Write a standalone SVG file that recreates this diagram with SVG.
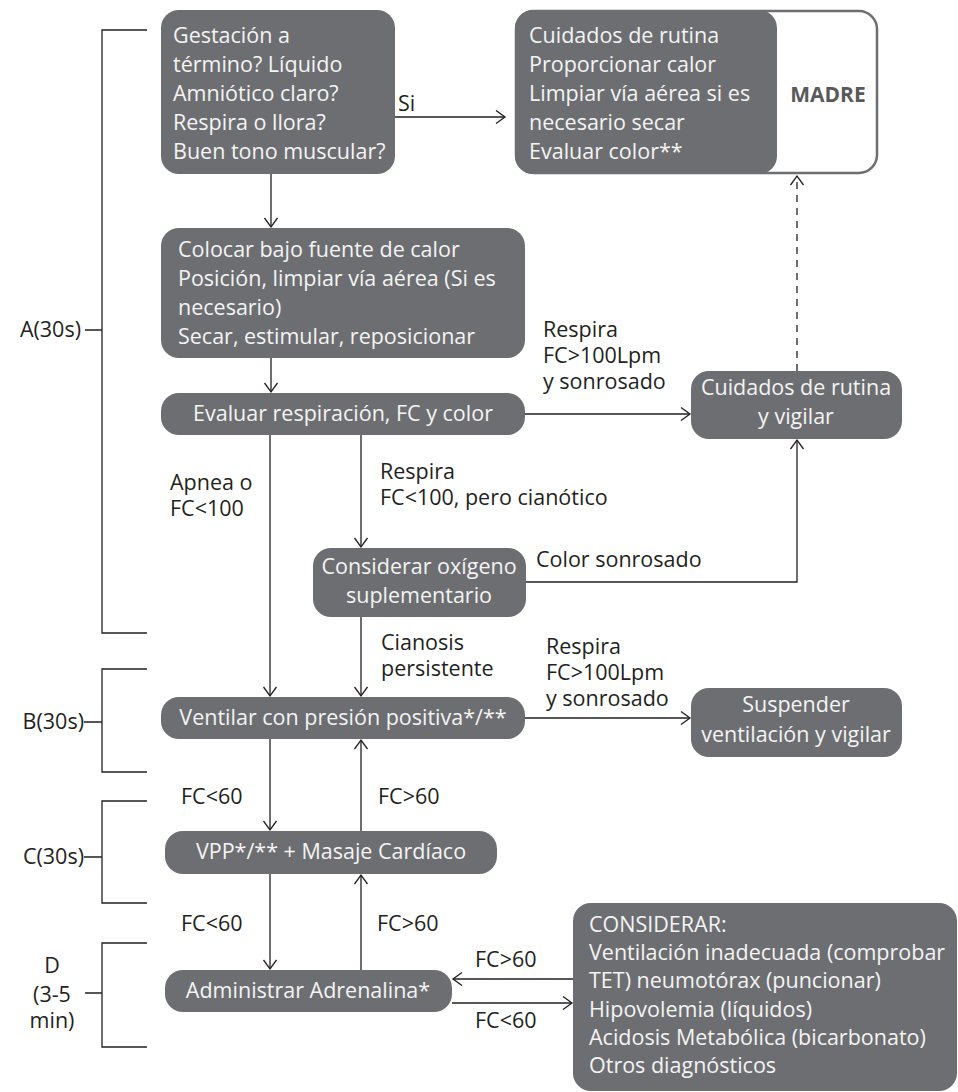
<svg xmlns="http://www.w3.org/2000/svg" width="958" height="1092" viewBox="0 0 958 1092">
<defs>
<marker id="ah" markerUnits="userSpaceOnUse" markerWidth="14" markerHeight="16" refX="10" refY="7" orient="auto">
<path d="M1,0.5 L10,7 L1,13.5" fill="none" stroke="#231f20" stroke-width="1.3"/>
</marker>
</defs>
<style>
.box{fill:#6d6e71}
.bt{font-family:"Open Sans","Liberation Sans",sans-serif;font-size:21.5px;fill:#f4f4f4}
.lt{font-family:"Open Sans","Liberation Sans",sans-serif;font-size:21.5px;fill:#231f20}
.c{text-anchor:middle}
.e{text-anchor:end}
.ln{fill:none;stroke:#231f20;stroke-width:1.3}
.ar{fill:none;stroke:#231f20;stroke-width:1.3;marker-end:url(#ah)}
</style>
<rect width="958" height="1092" fill="#ffffff"/>

<g id="brackets">
<path class="ln" d="M147,30 H102 V633 H147 M85,330 H102"/>
<text class="lt e" x="81" y="337">A(30s)</text>
<path class="ln" d="M147,669 H102 V772 H147 M84,722 H102"/>
<text class="lt e" x="84" y="729">B(30s)</text>
<path class="ln" d="M147,801 H102 V903 H147 M84,857 H102"/>
<text class="lt e" x="84" y="864">C(30s)</text>
<path class="ln" d="M147,943 H102 V1047 H147 M85,993 H102"/>
<text class="lt c" x="52" y="973">D</text>
<text class="lt c" x="52" y="1002">(3-5</text>
<text class="lt c" x="52" y="1028">min)</text>
</g>

<g id="n-gestacion">
<rect class="box" x="161" y="10" width="234" height="164" rx="18"/>
<text class="bt" x="173" y="43">Gestación a</text>
<text class="bt" x="173" y="72">término? Líquido</text>
<text class="bt" x="173" y="101">Amniótico claro?</text>
<text class="bt" x="173" y="130">Respira o llora?</text>
<text class="bt" x="173" y="159">Buen tono muscular?</text>
</g>

<g id="n-madre">
<rect x="516" y="11" width="361" height="162" rx="18" fill="#ffffff" stroke="#6d6e71" stroke-width="2.5"/>
<rect class="box" x="515" y="10" width="262" height="164" rx="18"/>
<text class="bt" x="529" y="43">Cuidados de rutina</text>
<text class="bt" x="529" y="72">Proporcionar calor</text>
<text class="bt" x="529" y="101">Limpiar vía aérea si es</text>
<text class="bt" x="529" y="130">necesario secar</text>
<text class="bt" x="529" y="159">Evaluar color**</text>
<text x="828" y="102" text-anchor="middle" font-family="Open Sans, Liberation Sans, sans-serif" font-size="21" font-weight="bold" fill="#58595b">MADRE</text>
</g>

<g id="n-colocar">
<rect class="box" x="161" y="228" width="364" height="130" rx="18"/>
<text class="bt" x="178" y="257">Colocar bajo fuente de calor</text>
<text class="bt" x="178" y="286">Posición, limpiar vía aérea (Si es</text>
<text class="bt" x="178" y="315">necesario)</text>
<text class="bt" x="178" y="344">Secar, estimular, reposicionar</text>
</g>

<g id="n-evaluar">
<rect class="box" x="161" y="393" width="364" height="42" rx="18"/>
<text class="bt c" x="343" y="421">Evaluar respiración, FC y color</text>
</g>

<g id="n-cuidados">
<rect class="box" x="691" y="371" width="211" height="68" rx="18"/>
<text class="bt c" x="796" y="395">Cuidados de rutina</text>
<text class="bt c" x="796" y="424">y vigilar</text>
</g>

<g id="n-oxigeno">
<rect class="box" x="313" y="548" width="213" height="69" rx="18"/>
<text class="bt c" x="419" y="574">Considerar oxígeno</text>
<text class="bt c" x="419" y="603">suplementario</text>
</g>

<g id="n-ventilar">
<rect class="box" x="161" y="697" width="364" height="42" rx="18"/>
<text class="bt c" x="343" y="725">Ventilar con presión positiva*/**</text>
</g>

<g id="n-suspender">
<rect class="box" x="691" y="688" width="211" height="69" rx="18"/>
<text class="bt c" x="796" y="712">Suspender</text>
<text class="bt c" x="796" y="742">ventilación y vigilar</text>
</g>

<g id="n-vpp">
<rect class="box" x="165" y="831" width="332" height="43" rx="18"/>
<text class="bt c" x="331" y="859">VPP*/** + Masaje Cardíaco</text>
</g>

<g id="n-adrenalina">
<rect class="box" x="165" y="970" width="287" height="42" rx="18"/>
<text class="bt c" x="308" y="998">Administrar Adrenalina*</text>
</g>

<g id="n-considerar">
<rect class="box" x="573" y="903" width="384" height="188" rx="18"/>
<text class="bt" x="589" y="932">CONSIDERAR:</text>
<text class="bt" x="589" y="960">Ventilación inadecuada (comprobar</text>
<text class="bt" x="589" y="988">TET) neumotórax (puncionar)</text>
<text class="bt" x="589" y="1017">Hipovolemia (líquidos)</text>
<text class="bt" x="589" y="1045">Acidosis Metabólica (bicarbonato)</text>
<text class="bt" x="589" y="1073">Otros diagnósticos</text>
</g>

<g id="connectors">
<path class="ar" d="M395,117 H505"/>
<path class="ar" d="M271,174 V227"/>
<path class="ar" d="M271,358 V392"/>
<path class="ar" d="M525,414 H690"/>
<path class="ar" d="M797,371 V176" stroke-dasharray="7,6"/>
<path class="ar" d="M361,435 V547"/>
<path class="ar" d="M526,582 H797 V440"/>
<path class="ar" d="M270,435 V696"/>
<path class="ar" d="M361,617 V696"/>
<path class="ar" d="M525,718 H690"/>
<path class="ar" d="M270,739 V830"/>
<path class="ar" d="M361,831 V740"/>
<path class="ar" d="M270,874 V969"/>
<path class="ar" d="M361,970 V875"/>
<path class="ar" d="M573,979 H453"/>
<path class="ar" d="M452,1003 H572"/>
</g>

<g id="labels">
<text class="lt" x="398" y="111">Si</text>
<text class="lt" x="543" y="337">Respira</text>
<text class="lt" x="543" y="363">FC&gt;100Lpm</text>
<text class="lt" x="543" y="389">y sonrosado</text>
<text class="lt" x="380" y="479">Respira</text>
<text class="lt" x="380" y="505">FC&lt;100, pero cianótico</text>
<text class="lt" x="170" y="490">Apnea o</text>
<text class="lt" x="170" y="516">FC&lt;100</text>
<text class="lt" x="536" y="567">Color sonrosado</text>
<text class="lt" x="381" y="650">Cianosis</text>
<text class="lt" x="381" y="676">persistente</text>
<text class="lt" x="546" y="654">Respira</text>
<text class="lt" x="546" y="680">FC&gt;100Lpm</text>
<text class="lt" x="546" y="706">y sonrosado</text>
<text class="lt" x="181" y="804">FC&lt;60</text>
<text class="lt" x="378" y="804">FC&gt;60</text>
<text class="lt" x="181" y="931">FC&lt;60</text>
<text class="lt" x="377" y="931">FC&gt;60</text>
<text class="lt" x="475" y="967">FC&gt;60</text>
<text class="lt" x="475" y="1028">FC&lt;60</text>
</g>
</svg>
